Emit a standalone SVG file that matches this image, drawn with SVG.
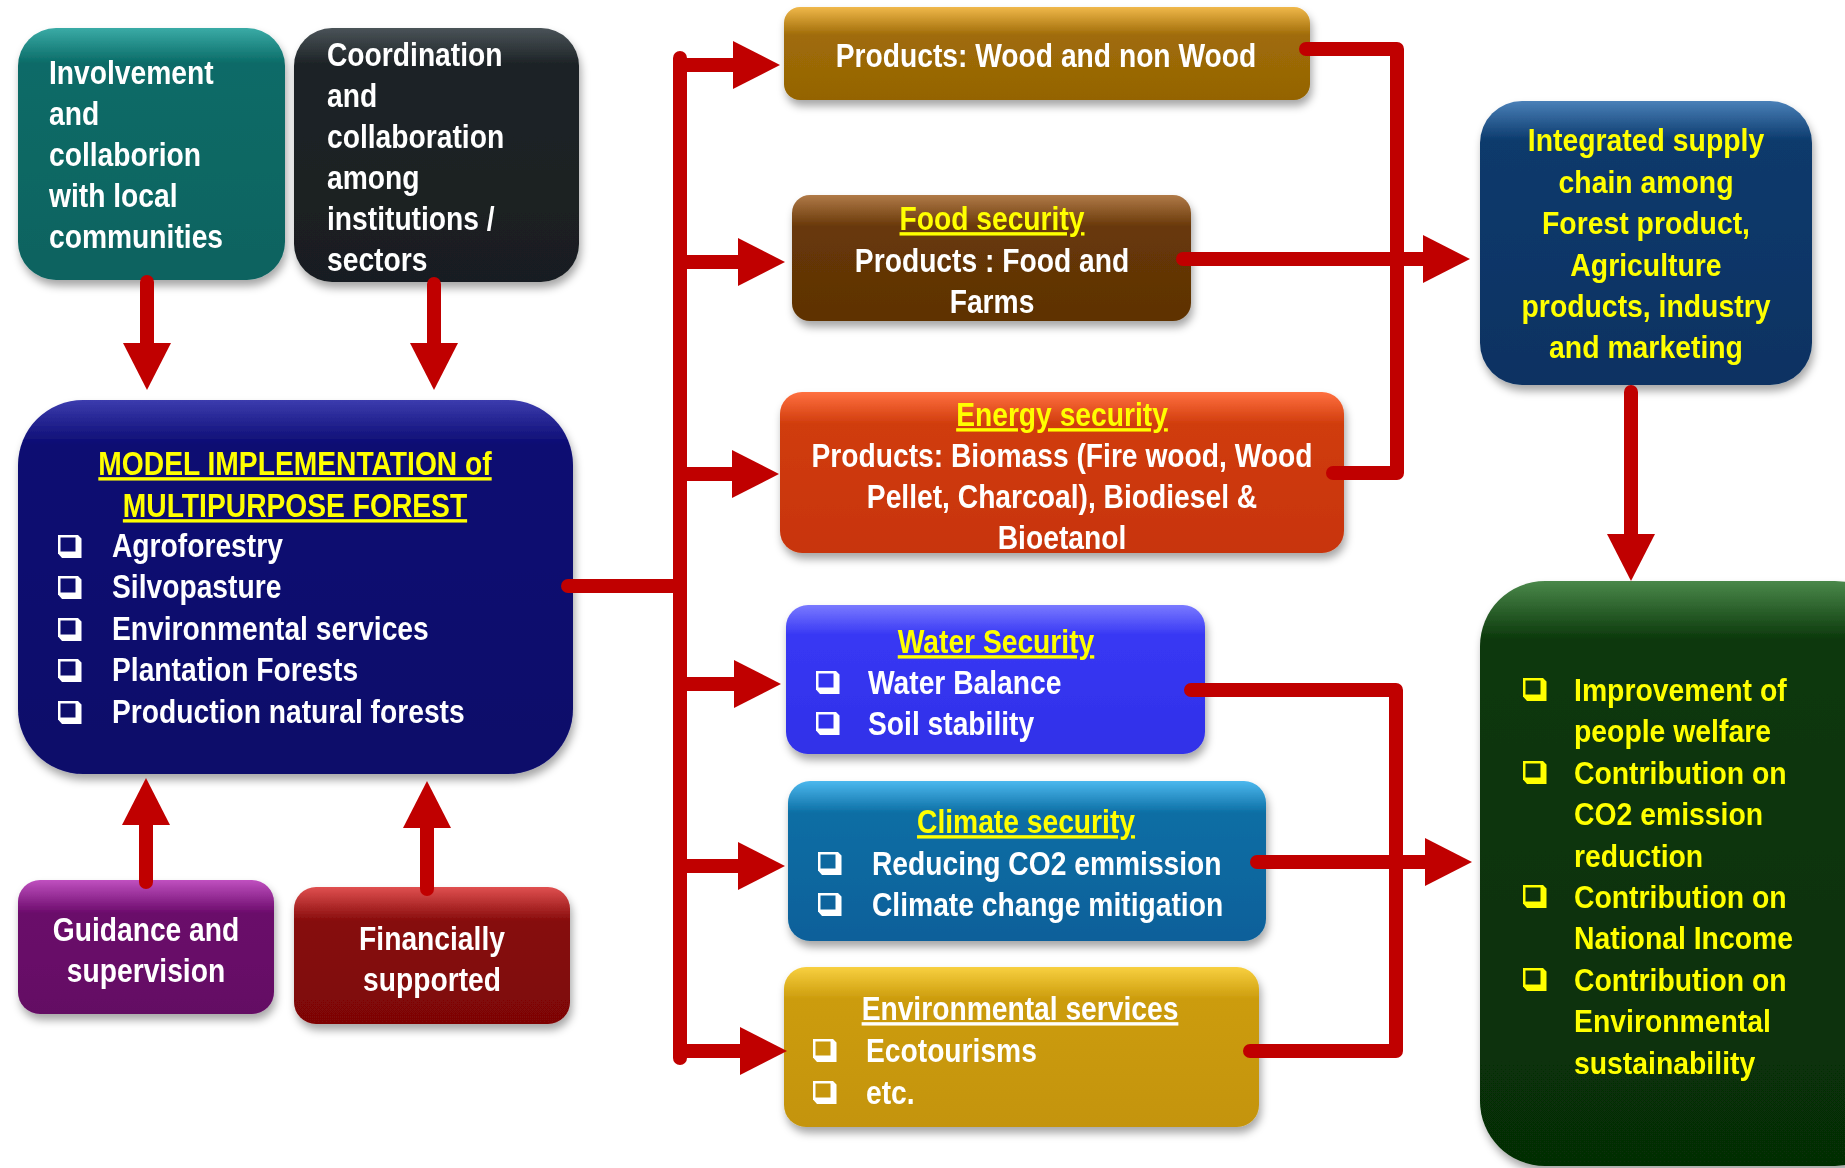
<svg xmlns="http://www.w3.org/2000/svg" width="1845" height="1168" viewBox="0 0 1845 1168">
<style>
.n{font-family:"Liberation Sans",Arial,sans-serif;font-weight:bold;font-size:34px;fill:#ffffff}
.c{text-anchor:middle}
.u{fill:#ffff00;text-decoration:underline}
.uw{text-decoration:underline}
.a{font-family:"Liberation Sans",Arial,sans-serif;font-weight:bold;font-size:31px;fill:#ffff00}
.w{color:#ffffff}
.y{color:#ffff00}
.ln{fill:none;stroke:#c00000;stroke-width:14;stroke-linecap:round;stroke-linejoin:round}
.ar{fill:none;stroke:#c00000;stroke-width:14;stroke-linecap:round;marker-end:url(#ah)}
</style>
<defs>
<marker id="ah" markerUnits="userSpaceOnUse" markerWidth="50" markerHeight="50" viewBox="0 0 48 50" refX="1" refY="25" orient="auto"><path d="M0,1 L47,25 L0,49 Z" fill="#c00000"/></marker>
<symbol id="cb" viewBox="0 0 24 23" width="24" height="23"><rect x="1.25" y="1.25" width="17.5" height="16.5" fill="none" stroke="currentColor" stroke-width="2.5"/><path d="M0,18.5 L20,18.5 L20,0 L23.5,3.5 L23.5,23 L4,23 Z" fill="currentColor"/></symbol>
<filter id="sh" x="-10%" y="-10%" width="120%" height="130%"><feGaussianBlur in="SourceAlpha" stdDeviation="4"/><feOffset dx="2" dy="6" result="b"/><feFlood flood-color="#000" flood-opacity="0.35"/><feComposite in2="b" operator="in"/><feMerge><feMergeNode/><feMergeNode in="SourceGraphic"/></feMerge></filter>
<linearGradient id="gTeal" x1="0" y1="0" x2="0" y2="1"><stop offset="0" stop-color="#3aaba6"/><stop offset="0.14" stop-color="#0a6b67"/><stop offset="1" stop-color="#086360"/></linearGradient>
<linearGradient id="gDark" x1="0" y1="0" x2="0" y2="1"><stop offset="0" stop-color="#4a5358"/><stop offset="0.14" stop-color="#1e2427"/><stop offset="1" stop-color="#191e21"/></linearGradient>
<linearGradient id="gNavy" x1="0" y1="0" x2="0" y2="1"><stop offset="0" stop-color="#3c3cae"/><stop offset="0.12" stop-color="#0b0b72"/><stop offset="1" stop-color="#08086a"/></linearGradient>
<linearGradient id="gWood" x1="0" y1="0" x2="0" y2="1"><stop offset="0" stop-color="#f0b84a"/><stop offset="0.3" stop-color="#a06c08"/><stop offset="1" stop-color="#946404"/></linearGradient>
<linearGradient id="gFood" x1="0" y1="0" x2="0" y2="1"><stop offset="0" stop-color="#b07a48"/><stop offset="0.25" stop-color="#683808"/><stop offset="1" stop-color="#5e3204"/></linearGradient>
<linearGradient id="gEnergy" x1="0" y1="0" x2="0" y2="1"><stop offset="0" stop-color="#ff7040"/><stop offset="0.2" stop-color="#d03c0c"/><stop offset="1" stop-color="#c83408"/></linearGradient>
<linearGradient id="gWater" x1="0" y1="0" x2="0" y2="1"><stop offset="0" stop-color="#7a7aff"/><stop offset="0.2" stop-color="#3838f4"/><stop offset="1" stop-color="#3030e8"/></linearGradient>
<linearGradient id="gClimate" x1="0" y1="0" x2="0" y2="1"><stop offset="0" stop-color="#4cb8ee"/><stop offset="0.2" stop-color="#0c6ea4"/><stop offset="1" stop-color="#08609a"/></linearGradient>
<linearGradient id="gEnv" x1="0" y1="0" x2="0" y2="1"><stop offset="0" stop-color="#f8d040"/><stop offset="0.2" stop-color="#cc9c0c"/><stop offset="1" stop-color="#c49408"/></linearGradient>
<linearGradient id="gInteg" x1="0" y1="0" x2="0" y2="1"><stop offset="0" stop-color="#4a80b8"/><stop offset="0.14" stop-color="#0b3a6c"/><stop offset="1" stop-color="#083262"/></linearGradient>
<linearGradient id="gGreen" x1="0" y1="0" x2="0" y2="1"><stop offset="0" stop-color="#4a884a"/><stop offset="0.1" stop-color="#0b380b"/><stop offset="1" stop-color="#062e06"/></linearGradient>
<linearGradient id="gPurple" x1="0" y1="0" x2="0" y2="1"><stop offset="0" stop-color="#c050c0"/><stop offset="0.25" stop-color="#6a0a6a"/><stop offset="1" stop-color="#640864"/></linearGradient>
<linearGradient id="gFin" x1="0" y1="0" x2="0" y2="1"><stop offset="0" stop-color="#e05050"/><stop offset="0.25" stop-color="#860a0a"/><stop offset="1" stop-color="#7e0606"/></linearGradient>
</defs>
<rect width="1845" height="1168" fill="#ffffff"/>

<g id="involvement" filter="url(#sh)">
<rect x="18" y="28" width="267" height="252" rx="38" fill="url(#gTeal)"/>
<text class="n" transform="translate(49 0) scale(0.83 1)"><tspan x="0" y="84">Involvement</tspan><tspan x="0" y="125">and</tspan><tspan x="0" y="166">collaborion</tspan><tspan x="0" y="207">with local</tspan><tspan x="0" y="248">communities</tspan></text>
</g>

<g id="coordination" filter="url(#sh)">
<rect x="294" y="28" width="285" height="254" rx="38" fill="url(#gDark)"/>
<text class="n" transform="translate(327 0) scale(0.83 1)"><tspan x="0" y="66">Coordination</tspan><tspan x="0" y="107">and</tspan><tspan x="0" y="148">collaboration</tspan><tspan x="0" y="189">among</tspan><tspan x="0" y="230">institutions /</tspan><tspan x="0" y="271">sectors</tspan></text>
</g>

<g id="model" filter="url(#sh)">
<rect x="18" y="400" width="555" height="374" rx="65" fill="url(#gNavy)"/>
<text class="n c u" transform="translate(295 0) scale(0.83 1)"><tspan x="0" y="475">MODEL IMPLEMENTATION of</tspan></text>
<text class="n c u" transform="translate(295 0) scale(0.83 1)"><tspan x="0" y="517">MULTIPURPOSE FOREST</tspan></text>
<g class="w"><use href="#cb" x="58" y="535"/><use href="#cb" x="58" y="576"/><use href="#cb" x="58" y="618"/><use href="#cb" x="58" y="659"/><use href="#cb" x="58" y="701"/></g>
<text class="n" transform="translate(112 0) scale(0.83 1)"><tspan x="0" y="557">Agroforestry</tspan><tspan x="0" y="598">Silvopasture</tspan><tspan x="0" y="640">Environmental services</tspan><tspan x="0" y="681">Plantation Forests</tspan><tspan x="0" y="723">Production natural forests</tspan></text>
</g>

<g id="guidance" filter="url(#sh)">
<rect x="18" y="880" width="256" height="134" rx="22" fill="url(#gPurple)"/>
<text class="n c" transform="translate(146 0) scale(0.83 1)"><tspan x="0" y="941">Guidance and</tspan><tspan x="0" y="982">supervision</tspan></text>
</g>

<g id="financially" filter="url(#sh)">
<rect x="294" y="887" width="276" height="137" rx="22" fill="url(#gFin)"/>
<text class="n c" transform="translate(432 0) scale(0.83 1)"><tspan x="0" y="950">Financially</tspan><tspan x="0" y="991">supported</tspan></text>
</g>

<g id="wood" filter="url(#sh)">
<rect x="784" y="7" width="526" height="93" rx="16" fill="url(#gWood)"/>
<text class="n c" transform="translate(1046 0) scale(0.83 1)"><tspan x="0" y="67">Products: Wood and non Wood</tspan></text>
</g>

<g id="food" filter="url(#sh)">
<rect x="792" y="195" width="399" height="126" rx="18" fill="url(#gFood)"/>
<text class="n c u" transform="translate(992 0) scale(0.83 1)"><tspan x="0" y="230">Food security</tspan></text>
<text class="n c" transform="translate(992 0) scale(0.83 1)"><tspan x="0" y="272">Products : Food and</tspan><tspan x="0" y="313">Farms</tspan></text>
</g>

<g id="energy" filter="url(#sh)">
<rect x="780" y="392" width="564" height="161" rx="22" fill="url(#gEnergy)"/>
<text class="n c u" transform="translate(1062 0) scale(0.83 1)"><tspan x="0" y="426">Energy security</tspan></text>
<text class="n c" transform="translate(1062 0) scale(0.83 1)"><tspan x="0" y="467">Products: Biomass (Fire wood, Wood</tspan><tspan x="0" y="508">Pellet, Charcoal), Biodiesel &amp;</tspan><tspan x="0" y="549">Bioetanol</tspan></text>
</g>

<g id="water" filter="url(#sh)">
<rect x="786" y="605" width="419" height="149" rx="22" fill="url(#gWater)"/>
<text class="n c u" transform="translate(996 0) scale(0.83 1)"><tspan x="0" y="653">Water Security</tspan></text>
<g class="w"><use href="#cb" x="816" y="671"/><use href="#cb" x="816" y="712"/></g>
<text class="n" transform="translate(868 0) scale(0.83 1)"><tspan x="0" y="694">Water Balance</tspan><tspan x="0" y="735">Soil stability</tspan></text>
</g>

<g id="climate" filter="url(#sh)">
<rect x="788" y="781" width="478" height="160" rx="22" fill="url(#gClimate)"/>
<text class="n c u" transform="translate(1026 0) scale(0.83 1)"><tspan x="0" y="833">Climate security</tspan></text>
<g class="w"><use href="#cb" x="818" y="852"/><use href="#cb" x="818" y="893"/></g>
<text class="n" transform="translate(872 0) scale(0.83 1)"><tspan x="0" y="875">Reducing CO2 emmission</tspan><tspan x="0" y="916">Climate change mitigation</tspan></text>
</g>

<g id="environmental" filter="url(#sh)">
<rect x="784" y="967" width="475" height="160" rx="22" fill="url(#gEnv)"/>
<text class="n c uw" transform="translate(1020 0) scale(0.83 1)"><tspan x="0" y="1020">Environmental services</tspan></text>
<g class="w"><use href="#cb" x="813" y="1039"/><use href="#cb" x="813" y="1081"/></g>
<text class="n" transform="translate(866 0) scale(0.83 1)"><tspan x="0" y="1062">Ecotourisms</tspan><tspan x="0" y="1104">etc.</tspan></text>
</g>

<g id="integrated" filter="url(#sh)">
<rect x="1480" y="101" width="332" height="284" rx="42" fill="url(#gInteg)"/>
<text class="a c" transform="translate(1646 0) scale(0.915 1)"><tspan x="0" y="151">Integrated supply</tspan><tspan x="0" y="193">chain among</tspan><tspan x="0" y="234">Forest product,</tspan><tspan x="0" y="276">Agriculture</tspan><tspan x="0" y="317">products, industry</tspan><tspan x="0" y="358">and marketing</tspan></text>
</g>

<g id="outcomes" filter="url(#sh)">
<rect x="1480" y="581" width="420" height="585" rx="65" fill="url(#gGreen)"/>
<g class="y"><use href="#cb" x="1523" y="678"/><use href="#cb" x="1523" y="761"/><use href="#cb" x="1523" y="885"/><use href="#cb" x="1523" y="968"/></g>
<text class="a" transform="translate(1574 0) scale(0.915 1)"><tspan x="0" y="701">Improvement of</tspan><tspan x="0" y="742">people welfare</tspan><tspan x="0" y="784">Contribution on</tspan><tspan x="0" y="825">CO2 emission</tspan><tspan x="0" y="867">reduction</tspan><tspan x="0" y="908">Contribution on</tspan><tspan x="0" y="949">National Income</tspan><tspan x="0" y="991">Contribution on</tspan><tspan x="0" y="1032">Environmental</tspan><tspan x="0" y="1074">sustainability</tspan></text>
</g>

<g id="connectors">
<path class="ar" d="M147,282 V344"/>
<path class="ar" d="M434,284 V344"/>
<path class="ar" d="M146,882 V824"/>
<path class="ar" d="M427,889 V827"/>
<path class="ln" d="M568,586 H680"/>
<path class="ln" d="M680,58 V1058"/>
<path class="ar" d="M680,65 H734"/>
<path class="ar" d="M680,262 H739"/>
<path class="ar" d="M680,474 H733"/>
<path class="ar" d="M680,684 H735"/>
<path class="ar" d="M680,866 H739"/>
<path class="ar" d="M680,1051 H741"/>
<path class="ln" d="M1306,49 H1397 V473 H1333"/>
<path class="ar" d="M1183,259 H1424"/>
<path class="ln" d="M1191,690 H1396 V1051 H1250"/>
<path class="ar" d="M1257,862 H1426"/>
<path class="ar" d="M1631,392 V535"/>
</g>
</svg>
